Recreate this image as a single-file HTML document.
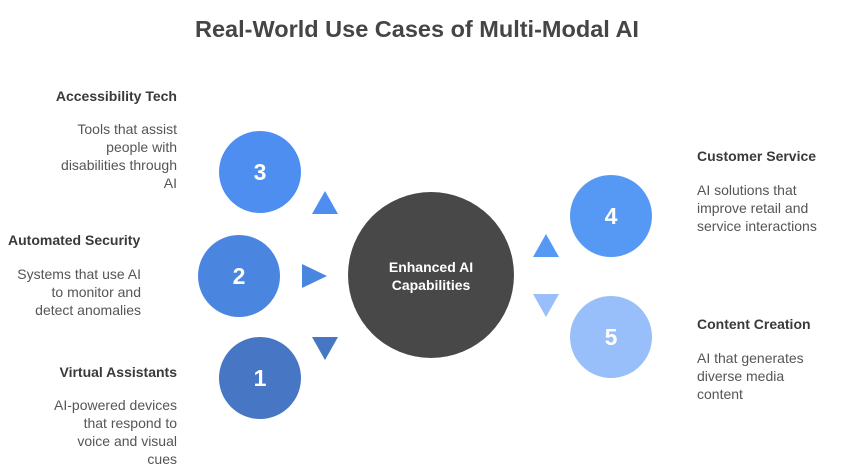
<!DOCTYPE html>
<html><head><style>
body{margin:0;width:852px;height:475px;background:#fff;font-family:"Liberation Sans",sans-serif;position:relative;overflow:hidden}
.t{position:absolute;font-size:14px;line-height:18px;color:#555}
.h{position:absolute;font-size:14px;font-weight:bold;color:#3a3a3a}
.r{text-align:right}
</style></head><body>
<div style="position:absolute;left:-9px;width:852px;top:16px;text-align:center;font-size:23.5px;font-weight:bold;color:#454545">Real-World Use Cases of Multi-Modal AI</div>
<svg width="852" height="475" style="position:absolute;left:0;top:0">
<circle cx="260" cy="172" r="41" fill="#4e8ef0"/>
<circle cx="239" cy="276" r="41" fill="#4a86e0"/>
<circle cx="260" cy="378" r="41" fill="#4676c4"/>
<circle cx="431" cy="275" r="83" fill="#484848"/>
<circle cx="611" cy="216" r="41" fill="#5599f5"/>
<circle cx="611" cy="337" r="41" fill="#98bff9"/>
<polygon points="325,191 338,214 312,214" fill="#4e8ef0"/>
<polygon points="302,264 327,276 302,288" fill="#4a86e0"/>
<polygon points="312,337 338,337 325,360" fill="#4676c4"/>
<polygon points="546,234 559,257 533,257" fill="#5599f5"/>
<polygon points="533,294 559,294 546,317" fill="#98bff9"/>
<g font-family="Liberation Sans" font-weight="bold" fill="#fff" text-anchor="middle" font-size="23">
<text x="260" y="180">3</text><text x="239" y="284">2</text><text x="260" y="386">1</text>
<text x="611" y="224">4</text><text x="611" y="345">5</text>
<text x="431" y="272" font-size="14">Enhanced AI</text>
<text x="431" y="290" font-size="14">Capabilities</text>
</g></svg>
<div class="h r" style="right:675px;top:88px">Accessibility Tech</div>
<div class="t r" style="right:675px;top:120px">Tools that assist<br>people with<br>disabilities through<br>AI</div>
<div class="h" style="left:8px;top:232px">Automated Security</div>
<div class="t r" style="right:711px;top:265px">Systems that use AI<br>to monitor and<br>detect anomalies</div>
<div class="h r" style="right:675px;top:364px">Virtual Assistants</div>
<div class="t r" style="right:675px;top:396px">AI-powered devices<br>that respond to<br>voice and visual<br>cues</div>
<div class="h" style="left:697px;top:148px">Customer Service</div>
<div class="t" style="left:697px;top:181px">AI solutions that<br>improve retail and<br>service interactions</div>
<div class="h" style="left:697px;top:316px">Content Creation</div>
<div class="t" style="left:697px;top:349px">AI that generates<br>diverse media<br>content</div>
</body></html>
